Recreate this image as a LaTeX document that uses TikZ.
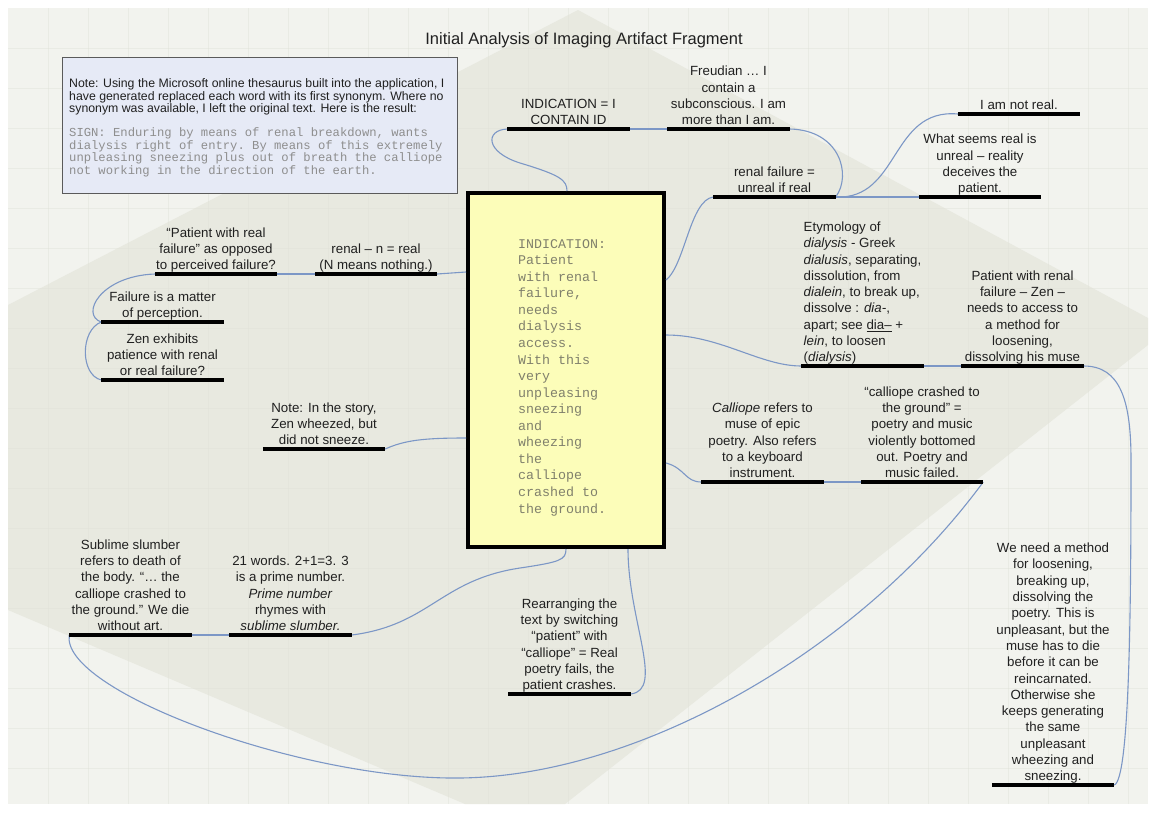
\documentclass[tikz,border=0pt]{standalone}
\usepackage{fontspec}
\setmainfont{Liberation Sans}
\setsansfont{Liberation Sans}
\setmonofont{Liberation Mono}
\usetikzlibrary{calc}
\definecolor{pagebg}{HTML}{F2F3EE}
\definecolor{diamondbg}{HTML}{E8E9E0}
\definecolor{gridcol}{HTML}{E0E2D8}
\definecolor{conncol}{HTML}{7C97C6}
\definecolor{txt}{HTML}{202020}
\definecolor{notefill}{HTML}{E6EAF6}
\definecolor{noteborder}{HTML}{5A5A5A}
\definecolor{monogray}{HTML}{8E8E8E}
\definecolor{boxfill}{HTML}{FCFDB9}
\definecolor{boxtext}{HTML}{80806C}
\newcommand\topicfont{\fontsize{13.3}{16.3}\selectfont}
\tikzset{
  topic/.style={anchor=south, align=center, inner xsep=0pt, inner ysep=1pt,
    text depth=3pt, minimum width=122pt, font=\topicfont, text=txt},
  uline/.style={line width=3.5pt, black},
  conn/.style={conncol, line width=1.1pt},
}
\begin{document}
\begin{tikzpicture}[x=1pt,y=-1pt]
\useasboundingbox (0,0) rectangle (1153,814);
\fill[white] (0,0) rectangle (1153,814);
\fill[pagebg] (8,8) rectangle (1148,804);
\fill[diamondbg] (578,10) -- (1148,318) -- (1148,345) -- (565,804) -- (465,804)
  -- (8,610) -- (8,305) -- cycle;
\foreach \gx in {48,88,...,1128} \draw[gridcol, line width=0.6pt, opacity=0.45] (\gx,8) -- (\gx,804);
\foreach \gy in {48,88,...,784} \draw[gridcol, line width=0.6pt, opacity=0.45] (8,\gy) -- (1148,\gy);

% title
\node[font=\fontsize{16.5}{19}\selectfont, text=txt] (title) at (584,40)
  {Initial Analysis of Imaging Artifact Fragment};

% note box
\node[draw=noteborder, line width=1.3pt, fill=notefill, minimum width=395pt,
  minimum height=136pt, anchor=north west, inner sep=0pt] (notebox) at (62,57) {};
\node[anchor=north west, inner sep=0pt, text=txt] (notetext) at (69,78.5)
  {\parbox[t]{400pt}{\raggedright\fontsize{12.3}{11}\selectfont
   Note: Using the Microsoft online thesaurus built into the application, I\\
   have generated replaced each word with its first synonym. Where no\\
   synonym was available, I left the original text. Here is the result:\par
   \vspace{12pt}
   {\ttfamily\color{monogray}\fontsize{12.2}{12.4}\selectfont
   SIGN: Enduring by means of renal breakdown, wants\\
   dialysis right of entry. By means of this extremely\\
   unpleasing sneezing plus out of breath the calliope\\
   not working in the direction of the earth.\par}}};

% central box
\node[draw=black, line width=4pt, fill=boxfill, minimum width=196pt,
  minimum height=354pt, inner sep=0pt] (cbox) at (566,370) {};
\node[anchor=north west, inner sep=0pt, align=left, text=boxtext,
  font=\ttfamily\fontsize{13.3}{16.56}\selectfont] (ctext) at (518,239)
  {INDICATION:\\Patient\\with renal\\failure,\\needs\\dialysis\\access.\\With this\\very\\unpleasing\\sneezing\\and\\wheezing\\the\\calliope\\crashed to\\the ground.};

% topics
\node[topic] (ind) at (568.5,129) {INDICATION = I\\CONTAIN ID};
\node[topic] (freud) at (728.5,129) {Freudian … I\\contain a\\subconscious. I am\\more than I am.};
\node[topic] (renalf) at (774.5,197) {renal failure =\\unreal if real};
\node[topic] (notreal) at (1019,114) {I am not real.};
\node[topic] (seems) at (980,197) {What seems real is\\unreal – reality\\deceives the\\patient.};
\node[topic, align=left] (etym) at (862.5,366)
  {Etymology of\\
   \textit{dialysis} - Greek\\
   \textit{dialusis}, separating,\\
   dissolution, from\\
   \textit{dialein}, to break up,\\
   dissolve : \textit{dia-},\\
   apart; see \underline{dia–} +\\
   \textit{lein}, to loosen\\
   (\textit{dialysis})};
\node[topic] (zenacc) at (1022.5,366) {Patient with renal\\failure – Zen –\\needs to access to\\a method for\\loosening,\\dissolving his muse};
\node[topic] (calli) at (762.5,482) {\textit{Calliope} refers to\\muse of epic\\poetry. Also refers\\to a keyboard\\instrument.};
\node[topic] (crashed) at (922,482) {“calliope crashed to\\the ground” =\\poetry and music\\violently bottomed\\out. Poetry and\\music failed.};
\node[topic] (weneed) at (1053,785) {We need a method\\for loosening,\\breaking up,\\dissolving the\\poetry. This is\\unpleasant, but the\\muse has to die\\before it can be\\reincarnated.\\Otherwise she\\keeps generating\\the same\\unpleasant\\wheezing and\\sneezing.};
\node[topic] (rearr) at (569.5,694) {Rearranging the\\text by switching\\“patient” with\\“calliope” = Real\\poetry fails, the\\patient crashes.};
\node[topic] (prime) at (290.5,635) {21 words. 2+1=3. 3\\is a prime number.\\\textit{Prime number}\\rhymes with\\\textit{sublime slumber.}};
\node[topic] (sublime) at (130.5,635) {Sublime slumber\\refers to death of\\the body. “… the\\calliope crashed to\\the ground.” We die\\without art.};
\node[topic] (wheezed) at (324,449) {Note: In the story,\\Zen wheezed, but\\did not sneeze.};
\node[topic] (zen) at (162.5,380) {Zen exhibits\\patience with renal\\or real failure?};
\node[topic] (failp) at (162.5,322) {Failure is a matter\\of perception.};
\node[topic] (realf) at (216,274) {“Patient with real\\failure” as opposed\\to perceived failure?};
\node[topic] (renaln) at (376,274) {renal – n = real\\(N means nothing.)};

% connectors
\draw[conn] (ind.south west) .. controls (485,130) and (485,152) .. (520,163)
  .. controls (560,175) and (567,180) .. ([xshift=1pt]cbox.north);
\draw[conn] (ind.south east) -- (freud.south west);
\draw[conn] (freud.south east) .. controls (840,130) and (852,175) .. (renalf.south east);
\draw[conn] (renalf.south west) .. controls (690,200) and (685,265) .. ([yshift=90pt]cbox.east);
\draw[conn] (renalf.south east) -- (seems.south west);
\draw[conn] (renalf.south east) .. controls (900,200) and (890,108) .. (notreal.south west);
\draw[conn] ([yshift=35pt]cbox.east) .. controls (720,335) and (760,366) .. (etym.south west);
\draw[conn] (etym.south east) -- (zenacc.south west);
\draw[conn] (zenacc.south east) .. controls (1120,366) and (1131,400) .. (1131,460)
  .. controls (1131,600) and (1130,780) .. (weneed.south east);
\draw[conn] ([yshift=-93pt]cbox.east) .. controls (685,468) and (685,482) .. (calli.south west);
\draw[conn] (calli.south east) -- (crashed.south west);
\draw[conn] (crashed.south east) .. controls (860,650) and (640,776) .. (460,778)
  .. controls (300,780) and (60,690) .. (sublime.south west);
\draw[conn] (sublime.south east) -- (prime.south west);
\draw[conn] (prime.south east) .. controls (430,625) and (440,580) .. (520,568)
  .. controls (560,562) and (566,560) .. (cbox.south);
\draw[conn] ([xshift=62pt]cbox.south) .. controls (628,620) and (665,690) .. (rearr.south east);
\draw[conn] (renaln.south east) -- ([yshift=98pt]cbox.west);
\draw[conn] (realf.south east) -- (renaln.south west);
\draw[conn] (realf.south west) .. controls (100,276) and (80,315) .. (failp.south west);
\draw[conn] (failp.south west) .. controls (80,330) and (80,375) .. (zen.south west);
\draw[conn] (wheezed.south east) .. controls (405,440) and (425,438) .. ([yshift=-68pt]cbox.west);

% underlines
\foreach \n in {ind,freud,renalf,notreal,seems,etym,zenacc,calli,crashed,weneed,rearr,prime,sublime,wheezed,zen,failp,realf,renaln}
  \draw[uline] (\n.south west) -- (\n.south east);
\end{tikzpicture}
\end{document}
